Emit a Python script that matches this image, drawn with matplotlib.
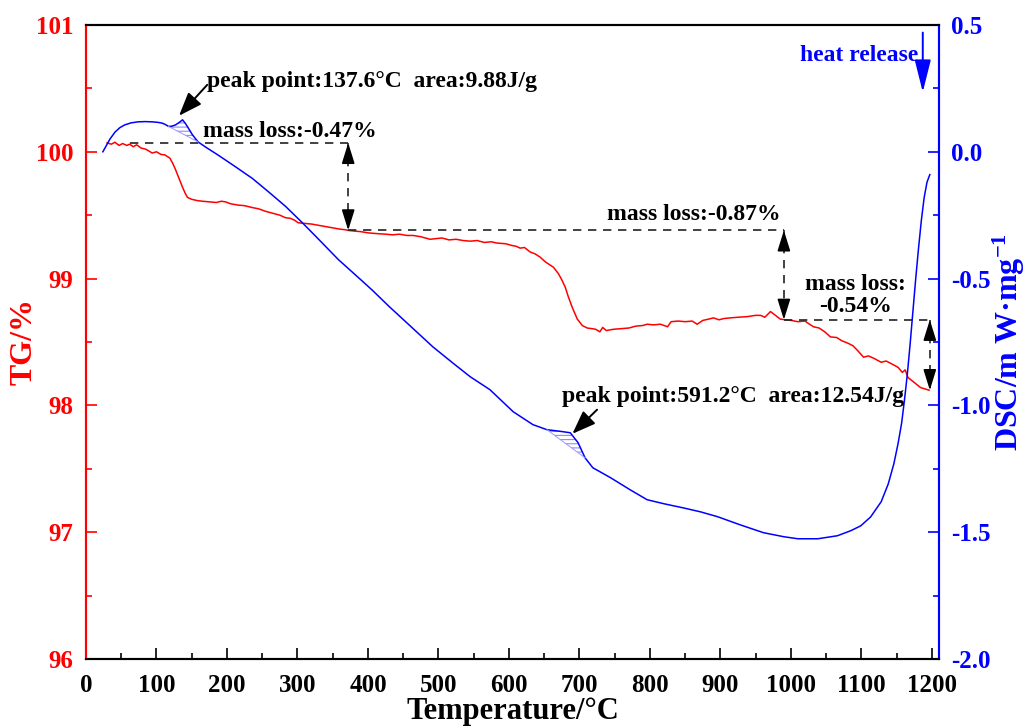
import numpy as np
import matplotlib
matplotlib.use('Agg')
import matplotlib.pyplot as plt
from matplotlib.ticker import MultipleLocator, FormatStrFormatter

plt.rcParams['font.family'] = ['Liberation Serif', 'DejaVu Serif']
plt.rcParams['font.weight'] = 'bold'
plt.rcParams['axes.labelweight'] = 'bold'
plt.rcParams['mathtext.fontset'] = 'custom'
plt.rcParams['mathtext.rm'] = 'Liberation Serif:bold'
plt.rcParams['mathtext.default'] = 'rm'
plt.rcParams['axes.unicode_minus'] = False
plt.rcParams['hatch.linewidth'] = 0.8

# TG curve (temperature in degC, mass in %)
tg_temp = [30, 36, 41, 47, 52, 58, 62, 67, 72, 78, 85, 94, 100, 106, 112, 119, 123, 127,
           132, 137, 141, 144, 150, 158, 165, 175, 185, 192, 198, 205, 215, 225, 236, 245,
           255, 265, 275, 283, 290, 296, 301, 310, 320, 330, 340, 350, 360, 368, 372, 380,
           390, 401, 412, 425, 435, 445, 455, 464, 475, 488, 497, 505, 515, 525, 535, 545,
           555, 565, 575, 583, 595, 605, 610, 616, 622, 630, 637, 644, 652, 663, 670, 675,
           680, 684, 690, 697, 704, 711, 718, 723, 729, 733, 738, 748, 760, 770, 780, 790,
           796, 805, 815, 825, 830, 840, 850, 860, 867, 875, 883, 890, 898, 905, 914, 925,
           938, 950, 957, 963, 971, 978, 985, 992, 1000, 1010, 1020, 1025, 1032, 1040, 1048,
           1056, 1065, 1072, 1081, 1088, 1095, 1103, 1110, 1118, 1128, 1135, 1142, 1152,
           1158, 1162, 1166, 1175, 1184, 1190, 1196]
tg_mass = [100.07, 100.06, 100.075, 100.05, 100.065, 100.05, 100.06, 100.04, 100.055, 100.03,
           100.02, 99.99, 100.0, 99.98, 99.975, 99.95, 99.91, 99.86, 99.79, 99.72, 99.67,
           99.64, 99.625, 99.615, 99.61, 99.605, 99.6, 99.61, 99.605, 99.59, 99.58, 99.575,
           99.56, 99.55, 99.53, 99.515, 99.5, 99.48, 99.475, 99.46, 99.44, 99.435, 99.43,
           99.42, 99.41, 99.40, 99.39, 99.385, 99.38, 99.375, 99.37, 99.36, 99.355, 99.35,
           99.345, 99.35, 99.34, 99.34, 99.33, 99.31, 99.315, 99.32, 99.305, 99.31, 99.30,
           99.295, 99.30, 99.285, 99.29, 99.28, 99.275, 99.26, 99.255, 99.24, 99.245, 99.21,
           99.195, 99.17, 99.13, 99.09, 99.04, 98.99, 98.93, 98.86, 98.77, 98.68, 98.63,
           98.61, 98.605, 98.60, 98.58, 98.615, 98.59, 98.60, 98.605, 98.61, 98.625, 98.63,
           98.64, 98.635, 98.64, 98.62, 98.66, 98.665, 98.66, 98.665, 98.64, 98.67, 98.68,
           98.69, 98.675, 98.685, 98.69, 98.695, 98.70, 98.71, 98.71, 98.695, 98.74, 98.71,
           98.68, 98.675, 98.67, 98.66, 98.665, 98.645, 98.62, 98.61, 98.58, 98.54, 98.535,
           98.51, 98.49, 98.47, 98.43, 98.38, 98.39, 98.37, 98.34, 98.35, 98.33, 98.30,
           98.26, 98.28, 98.22, 98.18, 98.14, 98.13, 98.12]

# DSC curve (mW/mg)
dsc_temp = [24, 28, 34, 41, 48, 55, 64, 74, 84, 94, 102, 108, 113, 117, 122, 127, 132, 137,
            141, 144, 151, 159, 170, 188, 212, 236, 259, 283, 307, 330, 358, 392, 407, 430,
            455, 492, 520, 545, 573, 606, 634, 654, 672, 687, 698, 708, 719, 744, 772, 796,
            820, 847, 872, 896, 928, 961, 990, 1010, 1038, 1066, 1085, 1099, 1113, 1128,
            1138, 1146, 1152, 1157, 1161, 1165, 1169, 1173, 1177, 1181, 1185, 1189, 1193,
            1197]
dsc_val = [0.0, 0.02, 0.05, 0.077, 0.095, 0.106, 0.114, 0.118, 0.119, 0.118, 0.116, 0.113,
           0.107, 0.100, 0.101, 0.106, 0.115, 0.126, 0.112, 0.099, 0.067, 0.039, 0.018,
           -0.014, -0.059, -0.105, -0.158, -0.215, -0.280, -0.345, -0.425, -0.51, -0.548,
           -0.61, -0.674, -0.769, -0.832, -0.887, -0.938, -1.025, -1.076, -1.096, -1.102,
           -1.108, -1.147, -1.207, -1.246, -1.285, -1.333, -1.372, -1.388, -1.404, -1.42,
           -1.439, -1.471, -1.502, -1.518, -1.526, -1.526, -1.514, -1.494, -1.475, -1.44,
           -1.38, -1.31, -1.23, -1.15, -1.07, -0.98, -0.88, -0.76, -0.63, -0.50, -0.38,
           -0.27, -0.18, -0.12, -0.09]

# peak integration ranges (degC)
peak1 = (117, 159)
peak2 = (654, 708)

# mass loss steps: dashed levels (TG %) and marker temperatures
level_temp = [62, 372, 990, 1203]
level_mass = [100.07, 99.38, 98.675, 98.12]
arrow_temp = [372, 990, 1197]

x_ticks = np.arange(0, 1201, 100)

fig = plt.figure(figsize=(10.27, 7.28), dpi=100)
ax = fig.add_axes([0.0837, 0.0948, 0.8306, 0.8709])
ax2 = ax.twinx()

ax.plot(tg_temp, tg_mass, color='red', lw=1.1)
ax2.plot(dsc_temp, dsc_val, color='blue', lw=1.1)

# hatched peak areas
for lo, hi in (peak1, peak2):
    xx = np.linspace(lo, hi, 60)
    yy = np.interp(xx, dsc_temp, dsc_val)
    base = np.interp(xx, [lo, hi], [yy[0], yy[-1]])
    ax2.fill_between(xx, yy, base, facecolor='none', edgecolor='#8c8cff',
                     hatch='----', linewidth=0)
    ax2.plot([lo, hi], [yy[0], yy[-1]], color='#9999ff', lw=0.7)

ax.set_xlim(0, 1210)
ax.set_ylim(96, 101)
ax2.set_ylim(-2.0, 0.5)
ax.set_xticks(x_ticks)
ax.xaxis.set_minor_locator(MultipleLocator(50))
ax.yaxis.set_major_locator(MultipleLocator(1))
ax.yaxis.set_minor_locator(MultipleLocator(0.5))
ax2.yaxis.set_major_locator(MultipleLocator(0.5))
ax2.yaxis.set_minor_locator(MultipleLocator(0.25))
ax2.yaxis.set_major_formatter(FormatStrFormatter('%.1f'))

for a in (ax, ax2):
    for s in a.spines.values():
        s.set_linewidth(1.5)
ax.spines['left'].set_color('red')
ax2.spines['left'].set_color('red')
ax.spines['right'].set_color('blue')
ax2.spines['right'].set_color('blue')

ax.tick_params(axis='x', which='both', direction='in', top=False, labelsize=18, pad=11)
ax.tick_params(axis='x', which='major', length=8, width=1.2)
ax.tick_params(axis='x', which='minor', length=4.5, width=1.2)
ax.tick_params(axis='y', which='both', direction='in', colors='red', labelsize=18, pad=9)
ax.tick_params(axis='y', which='major', length=8, width=1.2)
ax.tick_params(axis='y', which='minor', length=4.5, width=1.2)
ax2.tick_params(axis='y', which='both', direction='in', colors='blue', labelsize=18, pad=9)
ax2.tick_params(axis='y', which='major', length=8, width=1.2)
ax2.tick_params(axis='y', which='minor', length=4.5, width=1.2)

ax.set_xlabel('Temperature/°C', fontsize=22, labelpad=0)
ax.set_ylabel('TG/%', fontsize=23, color='red', labelpad=-2)
ax2.set_ylabel('DSC/m W·mg$^{-1}$', fontsize=23, color='blue', labelpad=0)

# mass loss dashed guides and double arrows
dash = (0, (5, 4))
for i in range(3):
    ax.plot([level_temp[i], level_temp[i + 1]], [level_mass[i], level_mass[i]],
            color='#222222', lw=1.2, linestyle=dash)
for i in range(3):
    x0 = arrow_temp[i]
    top, bot = level_mass[i], level_mass[i + 1]
    ax.plot([x0, x0], [top, bot], color='#222222', lw=1.2, linestyle=dash)
    hs = dict(arrowstyle='-|>,head_length=0.9,head_width=0.28', color='black',
              lw=1.2, mutation_scale=14, shrinkA=0, shrinkB=0)
    ax.annotate('', xy=(x0, top), xytext=(x0, top - 0.12), arrowprops=hs)
    ax.annotate('', xy=(x0, bot), xytext=(x0, bot + 0.12), arrowprops=hs)

ax.text(166, 100.158, 'mass loss:-0.47%', fontsize=17, va='center', ha='left')
ax.text(985, 99.503, 'mass loss:-0.87%', fontsize=17, va='center', ha='right')
ax.text(1092, 98.864, 'mass loss:\n-0.54%', fontsize=17, va='center', ha='center',
        multialignment='center', linespacing=1.05)

# DSC peak annotations
pk = dict(arrowstyle='-|>,head_length=0.8,head_width=0.3', color='black', lw=1.4,
          mutation_scale=18, shrinkA=0, shrinkB=0)
ax2.text(172, 0.276, 'peak point:137.6°C  area:9.88J/g', fontsize=17, va='center', ha='left')
ax2.annotate('', xy=(132, 0.142), xytext=(172, 0.264), arrowprops=pk)
ax2.text(675, -0.966, 'peak point:591.2°C  area:12.54J/g', fontsize=17, va='center', ha='left')
ax2.annotate('', xy=(690, -1.112), xytext=(725, -1.017), arrowprops=pk)

# heat release direction
ax.text(1180, 100.76, 'heat release', fontsize=17, color='blue', va='center', ha='right')
ax.annotate('', xy=(1187, 100.47), xytext=(1187, 100.94),
            arrowprops=dict(arrowstyle='-|>,head_length=1.0,head_width=0.25', color='blue',
                            lw=1.4, mutation_scale=20, shrinkA=0, shrinkB=0))

fig.savefig('out.png', dpi=100)
